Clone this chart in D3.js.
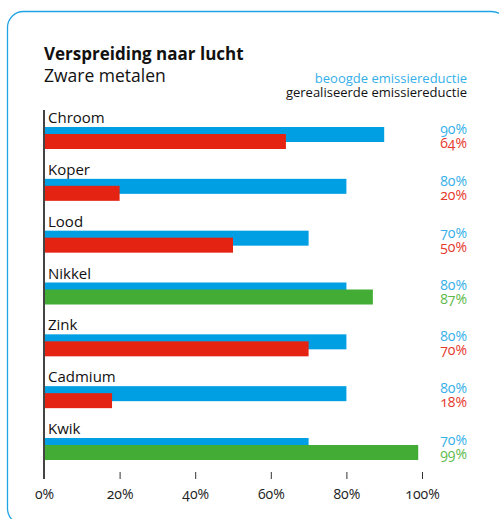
<!DOCTYPE html>
<html lang="nl">
    <head>
        <meta charset="utf-8">
        <title>Verspreiding naar lucht</title>
        <script src="https://d3js.org/d3.v7.min.js"></script>
        <style type="text/css">
            body { margin: 0; background: #fff; }
            svg text { font-family: "Open Sans", "Noto Sans", sans-serif; font-variant-numeric: oldstyle-nums; }
        </style>
    </head>
    <body>
        <script type="text/javascript">

        // Data
        const metals = ["Chroom", "Koper", "Lood", "Nikkel", "Zink", "Cadmium", "Kwik"];
        const target = [90, 80, 70, 80, 80, 80, 70];      // beoogde emissiereductie
        const realised = [64, 20, 50, 87, 70, 18, 99];    // gerealiseerde emissiereductie
        const xTicks = [0, 20, 40, 60, 80, 100];

        // Constants
        const w = 499;
        const h = 519;
        const blue = "#009fe3";
        const red = "#e42313";
        const green = "#43ac34";

        const svg = d3.select("body")
                      .append("svg")
                      .attr("width", w)
                      .attr("height", h);

        // frame
        svg.append("rect")
           .attr("x", 7.5)
           .attr("y", 11.5)
           .attr("width", 500)
           .attr("height", 513)
           .attr("rx", 16)
           .attr("fill", "none")
           .attr("stroke", "#1fa5e6")
           .attr("stroke-width", 1.3);

        // Scales
        const xScale = d3.scaleLinear()
                         .domain([0, 100])
                         .range([44, 422]);

        const yScale = d3.scalePoint()
                         .domain(metals)
                         .range([127, 438]);

        // titles
        svg.append("text")
           .attr("x", 44).attr("y", 60)
           .attr("font-size", "17px")
           .attr("font-weight", "bold")
           .attr("fill", "#111")
           .text("Verspreiding naar lucht");

        svg.append("text")
           .attr("x", 44).attr("y", 82)
           .attr("font-size", "17.5px")
           .attr("fill", "#111")
           .text("Zware metalen");

        svg.append("text")
           .attr("x", 467).attr("y", 83)
           .attr("text-anchor", "end")
           .attr("font-size", "13px")
           .attr("fill", "#35afe8")
           .text("beoogde emissiereductie");

        svg.append("text")
           .attr("x", 467).attr("y", 97)
           .attr("text-anchor", "end")
           .attr("font-size", "13px")
           .attr("fill", "#111")
           .text("gerealiseerde emissiereductie");

        const rows = svg.selectAll("g.row")
                        .data(metals)
                        .enter()
                        .append("g")
                        .attr("class", "row")
                        .attr("transform", d => "translate(0," + yScale(d) + ")");

        // category labels
        rows.append("text")
            .attr("x", 48).attr("y", -4)
            .attr("font-size", "15px")
            .attr("fill", "#111")
            .text(d => d);

        // target bars
        rows.append("rect")
            .attr("x", xScale(0))
            .attr("y", 0)
            .attr("width", (d, i) => xScale(target[i]) - xScale(0))
            .attr("height", 15)
            .attr("fill", blue);

        // realised bars (green when target exceeded)
        rows.append("rect")
            .attr("x", xScale(0))
            .attr("y", 7)
            .attr("width", (d, i) => xScale(realised[i]) - xScale(0))
            .attr("height", 15)
            .attr("fill", (d, i) => realised[i] > target[i] ? green : red);

        // value labels
        rows.append("text")
            .attr("x", 467).attr("y", 7)
            .attr("text-anchor", "end")
            .attr("font-size", "14px")
            .attr("fill", "#35afe8")
            .text((d, i) => target[i] + "%");

        rows.append("text")
            .attr("x", 467).attr("y", 21)
            .attr("text-anchor", "end")
            .attr("font-size", "14px")
            .attr("fill", (d, i) => realised[i] > target[i] ? "#5cb948" : "#e6392c")
            .text((d, i) => realised[i] + "%");

        // bottom axis
        const bottomAxis = d3.axisBottom()
                             .scale(xScale)
                             .tickValues(xTicks)
                             .tickSize(7)
                             .tickFormat(d => d + "%");

        const gx = svg.append("g")
                      .attr("transform", "translate(0,472)")
                      .call(bottomAxis);
        gx.select(".domain").remove();
        gx.selectAll("line").attr("stroke", "#333");
        gx.selectAll("text")
          .attr("y", 17)
          .attr("font-size", "14px")
          .attr("font-family", null)
          .attr("fill", "#222");

        // vertical axis line
        svg.append("line")
           .attr("x1", 44).attr("x2", 44)
           .attr("y1", 110).attr("y2", 479)
           .attr("stroke", "#444")
           .attr("stroke-width", 2);
        </script>
    </body>
</html>
